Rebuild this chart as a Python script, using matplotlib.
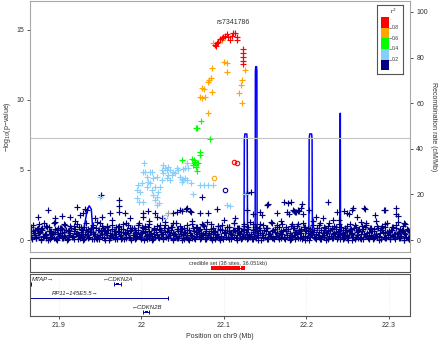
import matplotlib
matplotlib.use("Agg")
import matplotlib.pyplot as plt
from matplotlib.patches import Rectangle

plt.rcParams['font.family'] = ['Liberation Sans', 'DejaVu Sans']

# ---- association data (Mb, -log10 p) ----
# dense low band, positions in kb
band_a_kb = [21866, 21868, 21871, 21873, 21876, 21879, 21881, 21884, 21887, 21889,
             21892, 21894, 21897, 21900, 21902, 21905, 21908, 21910, 21913, 21916,
             21918, 21921, 21924, 21926, 21929, 21931, 21934, 21937, 21940, 21942,
             21945, 21947, 21950, 21953, 21955, 21958, 21961, 21963, 21966, 21969,
             21971, 21974, 21977, 21979, 21982, 21985, 21987, 21990, 21993, 21995,
             21998, 22001, 22003, 22006, 22009, 22011, 22014, 22017, 22019, 22022,
             22025, 22027, 22030, 22033, 22035, 22038, 22041, 22043, 22046, 22049,
             22051, 22054, 22057, 22059, 22062, 22065, 22067, 22070, 22073, 22075,
             22078, 22081, 22083, 22086, 22089, 22091, 22094, 22097, 22099, 22102,
             22105, 22107, 22110, 22113, 22115, 22118, 22121, 22123, 22126, 22129,
             22131, 22134, 22137, 22139, 22142, 22145, 22147, 22150, 22153, 22155,
             22158, 22161, 22163, 22166, 22169, 22171, 22174, 22177, 22179, 22182,
             22185, 22187, 22190, 22193, 22195, 22198, 22201, 22203, 22206, 22209,
             22211, 22214, 22217, 22219, 22222, 22225, 22227, 22230, 22233, 22235,
             22238, 22241, 22243, 22246, 22249, 22251, 22254, 22257, 22259, 22262,
             22265, 22267, 22270, 22273, 22275, 22278, 22281, 22283, 22286, 22289,
             22291, 22294, 22297, 22299, 22302, 22305, 22307, 22310, 22313, 22315,
             22318, 22321, 22323, 22325]
band_a_y = [0.21, 0.05, 0.38, 0.12, 0.47, 0.09, 0.27, 0.33, 0.03, 0.18,
            0.42, 0.15, 0.06, 0.29, 0.51, 0.11, 0.24, 0.02, 0.36, 0.19,
            0.08, 0.44, 0.26, 0.13, 0.31, 0.04, 0.39, 0.22, 0.10, 0.55,
            0.17, 0.07, 0.34, 0.25, 0.14, 0.48, 0.02, 0.28, 0.20, 0.41,
            0.09, 0.32, 0.16, 0.05, 0.45, 0.23, 0.12, 0.37, 0.06, 0.30,
            0.19, 0.52, 0.03, 0.27, 0.14, 0.40, 0.08, 0.21, 0.35, 0.11,
            0.46, 0.04, 0.25, 0.17, 0.33, 0.07, 0.43, 0.13, 0.29, 0.02,
            0.38, 0.22, 0.10, 0.49, 0.16, 0.05, 0.31, 0.26, 0.12, 0.41,
            0.08, 0.35, 0.19, 0.03, 0.44, 0.23, 0.14, 0.28, 0.06, 0.53,
            0.18, 0.09, 0.36, 0.24, 0.11, 0.47, 0.04, 0.32, 0.20, 0.15,
            0.39, 0.07, 0.27, 0.13, 0.50, 0.02, 0.34, 0.21, 0.10, 0.42,
            0.17, 0.06, 0.30, 0.25, 0.12, 0.45, 0.08, 0.37, 0.19, 0.04,
            0.33, 0.22, 0.14, 0.48, 0.09, 0.28, 0.16, 0.03, 0.40, 0.24,
            0.11, 0.35, 0.06, 0.29, 0.18, 0.51, 0.05, 0.26, 0.13, 0.43,
            0.20, 0.08, 0.38, 0.15, 0.31, 0.02, 0.46, 0.23, 0.10, 0.34,
            0.17, 0.07, 0.41, 0.27, 0.12, 0.36, 0.04, 0.30, 0.21, 0.49,
            0.09, 0.25, 0.14, 0.39, 0.06, 0.32, 0.19, 0.44, 0.11, 0.28,
            0.03, 0.22, 0.15, 0.07]

band_b_kb = [21867, 21870, 21874, 21877, 21880, 21883, 21886, 21891, 21893, 21896,
             21899, 21903, 21906, 21909, 21912, 21915, 21919, 21922, 21925, 21928,
             21932, 21935, 21938, 21941, 21944, 21948, 21951, 21954, 21957, 21960,
             21964, 21967, 21970, 21973, 21976, 21980, 21983, 21986, 21989, 21992,
             21996, 21999, 22002, 22005, 22008, 22012, 22015, 22018, 22021, 22024,
             22028, 22031, 22034, 22037, 22040, 22044, 22047, 22050, 22053, 22056,
             22060, 22063, 22066, 22069, 22072, 22076, 22079, 22082, 22085, 22088,
             22092, 22095, 22098, 22101, 22104, 22108, 22111, 22114, 22117, 22120,
             22124, 22127, 22130, 22133, 22136, 22140, 22143, 22146, 22149, 22152,
             22156, 22159, 22162, 22165, 22168, 22172, 22175, 22178, 22181, 22184,
             22188, 22191, 22194, 22197, 22200, 22204, 22207, 22210, 22213, 22216,
             22220, 22223, 22226, 22229, 22232, 22236, 22239, 22242, 22245, 22248,
             22252, 22255, 22258, 22261, 22264, 22268, 22271, 22274, 22277, 22280,
             22284, 22287, 22290, 22293, 22296, 22300, 22303, 22306, 22309, 22312,
             22316, 22319, 22322, 22324]
band_b_y = [0.62, 0.48, 0.81, 0.55, 0.70, 0.41, 0.93, 0.66, 0.52, 0.77,
            0.44, 0.88, 0.59, 0.73, 0.37, 0.84, 0.63, 0.50, 0.96, 0.68,
            0.46, 0.79, 0.57, 0.90, 0.42, 0.71, 0.61, 0.85, 0.53, 0.75,
            0.39, 0.67, 0.92, 0.58, 0.80, 0.47, 0.74, 0.64, 0.87, 0.51,
            0.72, 0.43, 0.83, 0.60, 0.95, 0.49, 0.69, 0.56, 0.78, 0.40,
            0.86, 0.65, 0.54, 0.91, 0.45, 0.76, 0.62, 0.82, 0.50, 0.70,
            0.38, 0.89, 0.58, 0.74, 0.47, 0.97, 0.66, 0.53, 0.81, 0.60,
            0.43, 0.77, 0.68, 0.55, 0.90, 0.48, 0.72, 0.63, 0.85, 0.41,
            0.79, 0.57, 0.94, 0.46, 0.69, 0.61, 0.83, 0.52, 0.75, 0.88,
            0.44, 0.67, 0.58, 0.92, 0.49, 0.73, 0.64, 0.80, 0.39, 0.86,
            0.55, 0.71, 0.47, 0.95, 0.62, 0.78, 0.42, 0.68, 0.84, 0.57,
            0.51, 0.89, 0.63, 0.74, 0.45, 0.82, 0.59, 0.93, 0.48, 0.70,
            0.66, 0.40, 0.87, 0.56, 0.76, 0.61, 0.91, 0.50, 0.79, 0.64,
            0.46, 0.83, 0.69, 0.54, 0.96, 0.60, 0.73, 0.43, 0.88, 0.58,
            0.75, 0.52, 0.81, 0.65]

band_c_kb = [21869, 21875, 21882, 21888, 21895, 21901, 21907, 21914, 21920, 21927,
             21933, 21939, 21946, 21952, 21959, 21965, 21972, 21978, 21984, 21991,
             21997, 22004, 22010, 22016, 22023, 22029, 22036, 22042, 22048, 22055,
             22061, 22068, 22074, 22080, 22087, 22093, 22100, 22106, 22112, 22119,
             22125, 22132, 22138, 22144, 22151, 22157, 22164, 22170, 22176, 22183,
             22189, 22196, 22202, 22208, 22215, 22221, 22228, 22234, 22240, 22247,
             22253, 22260, 22266, 22272, 22279, 22285, 22292, 22298, 22304, 22311,
             22317, 22320]
band_c_y = [1.05, 0.88, 1.22, 0.95, 1.31, 0.84, 1.12, 1.01, 1.38, 0.92,
            1.18, 0.86, 1.27, 1.03, 0.97, 1.42, 0.90, 1.15, 1.08, 0.83,
            1.24, 0.99, 1.35, 0.87, 1.10, 1.29, 0.94, 1.19, 0.82, 1.06,
            1.33, 0.91, 1.14, 1.25, 0.85, 1.02, 1.40, 0.96, 1.20, 0.89,
            1.11, 1.30, 0.93, 1.16, 0.86, 1.26, 1.04, 1.37, 0.90, 1.13,
            0.98, 1.23, 0.84, 1.34, 1.07, 0.92, 1.21, 1.00, 1.44, 0.88,
            1.17, 0.95, 1.28, 1.09, 0.83, 1.36, 1.02, 1.19, 0.91, 1.25,
            0.97, 1.12]

band_d_kb = [21865, 21872, 21878, 21885, 21890, 21898, 21904, 21911, 21917, 21923,
             21930, 21936, 21943, 21949, 21956, 21962, 21968, 21975, 21981, 21988,
             21994, 22000, 22007, 22013, 22020, 22026, 22032, 22039, 22045, 22052,
             22058, 22064, 22071, 22077, 22084, 22090, 22096, 22103, 22109, 22116,
             22122, 22128, 22135, 22141, 22148, 22154, 22160, 22167, 22173, 22180,
             22186, 22192, 22199, 22205, 22212, 22218, 22224, 22231, 22237, 22244,
             22250, 22256, 22263, 22269, 22276, 22282, 22288, 22295, 22301, 22308,
             22314, 22319, 22325]
band_d_y = [0.04, 0.11, 0.01, 0.16, 0.07, 0.02, 0.13, 0.05, 0.19, 0.09,
            0.03, 0.14, 0.06, 0.10, 0.01, 0.17, 0.08, 0.04, 0.12, 0.02,
            0.15, 0.06, 0.09, 0.03, 0.18, 0.05, 0.11, 0.01, 0.14, 0.07,
            0.02, 0.16, 0.08, 0.04, 0.12, 0.06, 0.01, 0.19, 0.10, 0.03,
            0.13, 0.05, 0.09, 0.02, 0.17, 0.07, 0.11, 0.04, 0.15, 0.01,
            0.08, 0.12, 0.03, 0.18, 0.06, 0.10, 0.02, 0.14, 0.05, 0.09,
            0.16, 0.01, 0.11, 0.07, 0.04, 0.13, 0.02, 0.17, 0.08, 0.05,
            0.12, 0.03, 0.10]

band_e_kb = [21865, 21869, 21872, 21875, 21878, 21882, 21885, 21888, 21891, 21895,
             21898, 21901, 21904, 21907, 21911, 21914, 21917, 21920, 21923, 21927,
             21930, 21933, 21936, 21939, 21943, 21946, 21949, 21952, 21956, 21959,
             21962, 21965, 21968, 21972, 21975, 21978, 21981, 21984, 21988, 21991,
             21994, 21997, 22000, 22004, 22007, 22010, 22013, 22016, 22020, 22023,
             22026, 22029, 22032, 22036, 22039, 22042, 22045, 22048, 22052, 22055,
             22058, 22061, 22064, 22068, 22071, 22074, 22077, 22080, 22084, 22087,
             22090, 22093, 22096, 22100, 22103, 22106, 22109, 22112, 22116, 22119,
             22122, 22125, 22128, 22132, 22135, 22138, 22141, 22144, 22148, 22151,
             22154, 22157, 22160, 22164, 22167, 22170, 22173, 22176, 22180, 22183,
             22186, 22189, 22192, 22196, 22199, 22202, 22205, 22208, 22212, 22215,
             22218, 22221, 22224, 22228, 22231, 22234, 22237, 22240, 22244, 22247,
             22250, 22253, 22256, 22260, 22263, 22266, 22269, 22272, 22276, 22279,
             22282, 22285, 22288, 22292, 22295, 22298, 22301, 22304, 22308, 22311,
             22314, 22317, 22320, 22324]
band_e_y = [0.35, 0.62, 0.24, 0.51, 0.78, 0.29, 0.44, 0.67, 0.21, 0.56,
            0.73, 0.38, 0.47, 0.26, 0.64, 0.53, 0.31, 0.79, 0.42, 0.58,
            0.23, 0.69, 0.36, 0.55, 0.45, 0.27, 0.74, 0.40, 0.61, 0.33,
            0.50, 0.76, 0.25, 0.63, 0.37, 0.57, 0.22, 0.48, 0.71, 0.34,
            0.60, 0.28, 0.52, 0.77, 0.39, 0.66, 0.30, 0.46, 0.24, 0.70,
            0.41, 0.59, 0.32, 0.75, 0.49, 0.26, 0.65, 0.43, 0.54, 0.37,
            0.72, 0.28, 0.61, 0.45, 0.80, 0.35, 0.53, 0.22, 0.67, 0.40,
            0.57, 0.31, 0.74, 0.48, 0.25, 0.63, 0.42, 0.70, 0.36, 0.55,
            0.29, 0.68, 0.46, 0.23, 0.59, 0.77, 0.38, 0.52, 0.33, 0.64,
            0.44, 0.27, 0.71, 0.50, 0.36, 0.62, 0.24, 0.79, 0.47, 0.30,
            0.58, 0.41, 0.66, 0.28, 0.73, 0.53, 0.35, 0.60, 0.45, 0.21,
            0.69, 0.39, 0.55, 0.32, 0.76, 0.49, 0.26, 0.64, 0.42, 0.57,
            0.34, 0.72, 0.51, 0.23, 0.61, 0.44, 0.78, 0.37, 0.54, 0.29,
            0.65, 0.43, 0.27, 0.70, 0.48, 0.58, 0.33, 0.75, 0.40, 0.52,
            0.31, 0.63, 0.46, 0.25]

band_f_kb = [21866, 21871, 21876, 21880, 21885, 21890, 21894, 21899, 21904, 21908,
             21913, 21918, 21922, 21927, 21931, 21936, 21941, 21945, 21950, 21955,
             21959, 21964, 21968, 21973, 21978, 21982, 21987, 21992, 21996, 22001,
             22005, 22010, 22015, 22019, 22024, 22029, 22033, 22038, 22043, 22047,
             22052, 22056, 22061, 22066, 22070, 22075, 22079, 22084, 22089, 22093,
             22098, 22102, 22107, 22112, 22116, 22121, 22125, 22130, 22135, 22139,
             22144, 22148, 22153, 22158, 22162, 22167, 22171, 22176, 22181, 22185,
             22190, 22194, 22199, 22204, 22208, 22213, 22217, 22222, 22227, 22231,
             22236, 22240, 22245, 22250, 22254, 22259, 22263, 22268, 22273, 22277,
             22282, 22286, 22291, 22296, 22300, 22305, 22309, 22314, 22319, 22323]
band_f_y = [0.95, 0.72, 1.12, 0.83, 1.03, 0.66, 1.20, 0.88, 0.76, 1.08,
            0.69, 0.99, 1.16, 0.80, 0.93, 0.63, 1.06, 0.85, 1.22, 0.74,
            0.90, 1.10, 0.67, 1.01, 0.79, 1.18, 0.87, 0.71, 1.04, 0.94,
            0.64, 1.14, 0.82, 0.97, 0.70, 1.07, 0.89, 1.21, 0.77, 1.00,
            0.86, 0.68, 1.13, 0.92, 0.75, 1.05, 0.81, 1.17, 0.65, 0.98,
            1.09, 0.73, 0.91, 1.19, 0.84, 0.62, 1.02, 0.78, 1.11, 0.96,
            0.70, 1.06, 0.88, 1.23, 0.76, 0.93, 1.15, 0.67, 1.00, 0.85,
            1.12, 0.79, 0.95, 0.64, 1.08, 0.87, 1.20, 0.72, 0.99, 0.83,
            0.91, 1.16, 0.68, 1.03, 0.80, 1.10, 0.74, 0.97, 1.24, 0.86,
            0.77, 1.01, 0.89, 1.13, 0.66, 0.94, 1.07, 0.82, 1.18, 0.73]

# navy points standing above the band
navy_pos = [21.8753, 21.8874, 21.8955, 21.9036, 21.9137, 21.9218, 21.9258, 21.9298, 21.9319, 21.9347,
            21.9440, 21.9513, 21.9521, 21.9622, 21.9735, 21.9735, 21.9735, 21.9804, 21.9865, 22.0026,
            22.0026, 22.0086, 22.0167, 22.0187, 22.0248, 22.0390, 22.0430, 22.0471, 22.0491, 22.0539,
            22.0552, 22.0592, 22.0600, 22.0713, 22.0741, 22.0815, 22.0915, 22.1137, 22.1278, 22.1279,
            22.1327, 22.1359, 22.1440, 22.1461, 22.1521, 22.1540, 22.1642, 22.1735, 22.1763, 22.1775,
            22.1796, 22.1816, 22.1836, 22.1856, 22.1864, 22.1876, 22.1897, 22.1905, 22.1917, 22.1937,
            22.1945, 22.1965, 22.2038, 22.2119, 22.2200, 22.2261, 22.2321, 22.2370, 22.2463, 22.2491,
            22.2523, 22.2552, 22.2564, 22.2612, 22.2705, 22.2713, 22.2834, 22.2947, 22.2955, 22.3089,
            22.3089, 22.3117]
navy_y = [1.67, 2.14, 1.55, 1.71, 1.62, 2.38, 1.79, 1.90, 2.19, 2.14,
          1.55, 3.21, 1.62, 1.90, 2.86, 2.43, 1.98, 1.90, 1.55, 1.67,
          1.90, 2.07, 1.90, 1.62, 1.55, 1.90, 1.98, 2.14, 2.10, 2.20,
          2.26, 2.07, 2.02, 1.90, 3.05, 1.90, 2.20, 1.55, 3.38, 2.14,
          3.45, 1.83, 2.02, 1.79, 2.50, 2.57, 1.90, 2.74, 2.02, 2.62,
          1.83, 2.74, 2.14, 2.07, 2.02, 2.02, 2.17, 2.10, 2.07, 2.26,
          2.57, 1.83, 2.14, 1.67, 1.55, 2.74, 1.45, 1.98, 2.07, 1.90,
          1.83, 2.14, 2.26, 1.67, 2.26, 2.21, 1.79, 2.17, 2.14, 2.26,
          1.88, 1.71]

lblue_pos = [21.9500, 21.9945, 21.9953, 21.9965, 21.9978, 21.9986, 22.0006, 22.0026, 22.0026, 22.0034,
             22.0046, 22.0066, 22.0066, 22.0086, 22.0107, 22.0107, 22.0127, 22.0127, 22.0147, 22.0147,
             22.0167, 22.0167, 22.0187, 22.0187, 22.0187, 22.0208, 22.0216, 22.0228, 22.0248, 22.0248,
             22.0268, 22.0268, 22.0288, 22.0309, 22.0309, 22.0329, 22.0329, 22.0349, 22.0349, 22.0369,
             22.0390, 22.0410, 22.0430, 22.0450, 22.0471, 22.0491, 22.0491, 22.0511, 22.0511, 22.0531,
             22.0531, 22.0552, 22.0552, 22.0572, 22.0600, 22.0632, 22.0713, 22.0762, 22.0815, 22.0875,
             22.1036, 22.1076, 22.1258]
lblue_y = [3.05, 3.57, 2.98, 3.93, 2.74, 3.45, 4.05, 4.88, 2.74, 5.48,
           4.88, 3.81, 4.52, 4.17, 4.05, 4.88, 4.88, 3.57, 3.21, 4.40,
           2.86, 3.81, 3.10, 4.52, 2.50, 3.45, 2.62, 3.81, 4.29, 5.00,
           4.76, 5.36, 5.12, 5.00, 4.40, 4.64, 5.24, 4.29, 5.00, 4.64,
           4.88, 4.76, 5.12, 5.00, 4.52, 4.33, 4.17, 4.29, 5.05, 4.40,
           5.12, 4.29, 5.48, 5.12, 4.05, 3.29, 3.93, 3.93, 3.93, 3.93,
           2.50, 2.45, 3.29]

green_pos = [22.0725, 22.0664, 22.0680, 22.0834, 22.0713, 22.0713, 22.0490, 22.0612, 22.0652, 22.0672,
             22.0693, 22.0632, 22.0664, 22.0672, 22.0640, 22.0640]
green_y = [8.52, 7.98, 7.98, 7.19, 6.31, 6.07, 5.71, 5.76, 5.60, 5.48,
           5.52, 5.36, 5.24, 4.95, 5.52, 5.71]

orange_pos = [22.1004, 22.1036, 22.1036, 22.0855, 22.0843, 22.0815, 22.0827, 22.0734, 22.0762, 22.0714,
              22.0734, 22.0775, 22.0855, 22.0815, 22.1218, 22.1206, 22.1190, 22.1218, 22.1258, 22.0875,
              22.0980]
orange_y = [12.74, 12.62, 12.02, 12.26, 11.55, 11.31, 11.43, 10.83, 10.76, 10.24,
            10.12, 10.24, 10.55, 9.10, 11.43, 11.07, 10.48, 9.81, 12.17, 14.05,
            14.30]

red_pos = [22.0895, 22.0905, 22.0915, 22.0935, 22.0955, 22.0976, 22.0996, 22.1016, 22.1036, 22.1056,
           22.1076, 22.1097, 22.1117, 22.1137, 22.1157, 22.1165, 22.1238, 22.1238, 22.1238, 22.1238,
           22.1238]
red_y = [13.93, 13.85, 14.05, 14.17, 14.33, 14.40, 14.48, 14.57, 14.71, 14.52,
         14.29, 14.57, 14.76, 14.81, 14.52, 14.29, 13.62, 13.33, 13.05, 12.81,
         12.57]

# sites plotted as open circles
circle_pos = [22.1125, 22.1158, 22.0886, 22.1020, 22.0288]
circle_y = [5.60, 5.52, 4.40, 3.57, 1.67]
circle_col = ['#FF0000', '#FF0000', '#FFA500', '#000080', '#87CEFA']
grey_pos = [22.0329]
grey_y = [1.95]

lead_snp = 'rs7341786'
lead_pos, lead_y = 22.1117, 14.76

# ---- recombination rate (cM/Mb) ----
recomb_pos = [21.8652, 21.8800, 21.9000, 21.9200, 21.9290, 21.9320, 21.9345, 21.9370, 21.9395, 21.9410,
              21.9425, 21.9500, 21.9800, 22.0100, 22.0500, 22.0800, 22.1100, 22.1246, 22.1250, 22.1256,
              22.1280, 22.1285, 22.1289, 22.1381, 22.1384, 22.1388, 22.1398, 22.1402, 22.1405, 22.1700,
              22.2032, 22.2036, 22.2042, 22.2066, 22.2071, 22.2075, 22.2300, 22.2410, 22.2413, 22.2416,
              22.2600, 22.2900, 22.3258]
recomb_rate = [1.0, 1.2, 0.8, 1.5, 2.0, 8.0, 13.0, 15.0, 13.5, 6.0,
               1.5, 1.0, 0.6, 0.9, 0.7, 1.1, 0.8, 1.0, 44.0, 46.5,
               46.5, 44.0, 1.0, 1.0, 74.0, 76.0, 76.0, 74.0, 1.0, 0.9,
               1.0, 44.0, 46.5, 46.5, 44.0, 1.0, 0.8, 1.0, 55.6, 1.0,
               0.9, 1.1, 0.8]

# ---- credible set ----
cred_pos = [22.0872, 22.0878, 22.0885, 22.0891, 22.0895, 22.0902, 22.0908, 22.0915, 22.0921, 22.0928,
            22.0935, 22.0941, 22.0948, 22.0955, 22.0962, 22.0968, 22.0976, 22.0983, 22.0990, 22.0996,
            22.1004, 22.1010, 22.1016, 22.1024, 22.1030, 22.1036, 22.1045, 22.1056, 22.1066, 22.1076,
            22.1087, 22.1097, 22.1107, 22.1117, 22.1137, 22.1157, 22.1175, 22.1238]
cred_text = 'credible set (38 sites, 36.051kb)'

# ---- genes ----
gene_names = ['MTAP\u2192', '\u2190CDKN2A', 'RP11\u2212145E5.5\u2192', '\u2190CDKN2B']
gene_label_x = [21.8670, 21.9533, 21.8915, 21.9885]
gene_label_row = [5, 5, 19, 33]
gene_start = [21.8600, 21.9674, 21.8600, 22.0026]
gene_end = [21.8662, 21.9752, 22.0329, 22.0098]
gene_row = [10, 10, 24, 37.7]

tick_pos = [21.9, 22.0, 22.1, 22.2, 22.3]
tick_labels = ['21.9', '22', '22.1', '22.2', '22.3']

r2_colors = ['#FF0000', '#FFA500', '#00FF00', '#87CEFA', '#000080']
r2_breaks = ['0.8', '0.6', '0.4', '0.2']

XLIM = (21.8652, 22.3258)
TXT = '#333333'
FS = 5

bands = [(band_d_kb, band_d_y), (band_a_kb, band_a_y), (band_e_kb, band_e_y),
         (band_b_kb, band_b_y), (band_f_kb, band_f_y), (band_c_kb, band_c_y)]
for kb, yy in bands:
    assert len(kb) == len(yy)

fig = plt.figure(figsize=(4.4, 3.45), dpi=100)
W, H = 440.0, 345.0


def px_axes(x0, y0, x1, y1):
    return fig.add_axes([x0 / W, 1 - y1 / H, (x1 - x0) / W, (y1 - y0) / H])


# main panel
ax = px_axes(30, 1, 410, 252)
ax.set_xlim(XLIM)
ax.set_ylim(-0.857, 17.07)
ax.axhline(7.3, color='#C4C4C4', lw=0.8, zorder=1)

pt = dict(ls='none', marker='+', ms=5.0, mew=0.85, zorder=2)
for kb, yy in bands:
    ax.plot([k / 1000.0 for k in kb], yy, color='#000080', **pt)
ax.plot(navy_pos, navy_y, color='#000080', **pt)
ax.plot(grey_pos, grey_y, color='#A0A0A0', **pt)
ax.plot(lblue_pos, lblue_y, color='#87CEFA', **pt)
ax.plot(green_pos, green_y, color='#00FF00', **pt)
ax.plot(orange_pos, orange_y, color='#FFA500', **pt)
ax.plot(red_pos, red_y, color='#FF0000', **pt)
for x, y, c in zip(circle_pos, circle_y, circle_col):
    ax.plot([x], [y], ls='none', marker='o', ms=3.2, mfc='none', mec=c, mew=0.8, zorder=3)
ax.text(lead_pos, lead_y + 0.55, lead_snp, ha='center', va='bottom', fontsize=FS, color=TXT)

ax.set_xticks([])
ax.set_yticks([0, 5, 10, 15])
ax.tick_params(axis='y', length=2.5, width=0.6, pad=2, labelsize=FS, colors=TXT)
ax.set_ylabel('\u2212log$_{10}$(p\u2212value)', fontsize=FS, color=TXT)
ax.yaxis.set_label_coords(-0.044, 0.5)
for s in ax.spines.values():
    s.set_color('#A8A8A8')
    s.set_linewidth(0.8)

# recombination rate on right axis, drawn underneath the points
ax2 = ax.twinx()
ax2.set_ylim(-5.26, 104.8)
ax2.plot(recomb_pos, recomb_rate, color='#0000FF', lw=1.1)
ax2.set_yticks([0, 20, 40, 60, 80, 100])
ax2.tick_params(axis='y', length=2.5, width=0.6, pad=2, labelsize=FS, colors=TXT)
ax2.set_ylabel('Recombination rate (cM/Mb)', fontsize=FS, color=TXT, rotation=270)
ax2.yaxis.set_label_coords(1.07, 0.5)
for s in ax2.spines.values():
    s.set_visible(False)
ax.set_zorder(ax2.get_zorder() + 1)
ax.patch.set_visible(False)

# r2 legend
leg = px_axes(377.3, 5, 402.7, 74)
leg.set_zorder(5)
leg.set_xlim(0, 25.4)
leg.set_ylim(69, 0)
bounds = [11.7, 22.7, 33.3, 44.0, 54.7, 65.0]
for i, c in enumerate(r2_colors):
    leg.add_patch(Rectangle((3.4, bounds[i]), 8.6, bounds[i + 1] - bounds[i], facecolor=c, edgecolor='none'))
for i, lab in enumerate(r2_breaks):
    leg.plot([12.0, 13.4], [bounds[i + 1], bounds[i + 1]], color=TXT, lw=0.4)
    leg.text(14.2, bounds[i + 1], lab, fontsize=3.6, va='center', ha='left', color=TXT)
leg.text(16.0, 6.0, 'r$^2$', fontsize=4.5, ha='center', va='center', color=TXT)
leg.set_xticks([])
leg.set_yticks([])
for s in leg.spines.values():
    s.set_color('#555555')
    s.set_linewidth(0.8)

# credible set panel
cax = px_axes(30, 258.3, 410, 272.3)
cax.set_xlim(XLIM)
cax.set_ylim(0, 1)
cax.plot([min(cred_pos), max(cred_pos)], [0.29, 0.29], color='#FF0000', lw=0.8)
cax.plot(cred_pos, [0.29] * len(cred_pos), ls='none', marker='s', ms=2.8, color='#FF0000', mew=0)
cax.text(22.105, 0.62, cred_text, ha='center', va='center', fontsize=4.0, color=TXT)
cax.set_xticks([])
cax.set_yticks([])
for s in cax.spines.values():
    s.set_color('#555555')
    s.set_linewidth(0.8)

# gene panel
gax = px_axes(30, 274.3, 410, 316)
gax.set_xlim(XLIM)
gax.set_ylim(41.7, 0)
for x in tick_pos:
    gax.axvline(x, color='#E4E4E4', lw=0.5, ls=':', zorder=0)
for name, lx, lr, st, en, gr in zip(gene_names, gene_label_x, gene_label_row, gene_start, gene_end, gene_row):
    gax.text(lx, lr, name, fontsize=4.3, style='italic', ha='left', va='center', color='#222222')
    gax.plot([st, en], [gr, gr], color='#0000A0', lw=0.7)
    gax.plot([st, en], [gr, gr], ls='none', marker='|', ms=2.5, mew=0.7, color='#0000A0')
gax.add_patch(Rectangle((21.8652, 8.8), 0.0012, 2.4, facecolor='#0000A0', edgecolor='none'))
gax.add_patch(Rectangle((21.9695, 8.9), 0.0030, 2.2, facecolor='#0000A0', edgecolor='none'))
gax.add_patch(Rectangle((22.0040, 36.6), 0.0040, 2.2, facecolor='#0000A0', edgecolor='none'))
gax.set_yticks([])
gax.set_xticks(tick_pos)
gax.set_xticklabels(tick_labels)
gax.tick_params(axis='x', length=2.5, width=0.6, pad=2, labelsize=FS, colors=TXT)
gax.set_xlabel('Position on chr9 (Mb)', fontsize=FS, color=TXT, labelpad=3)
for s in gax.spines.values():
    s.set_color('#555555')
    s.set_linewidth(0.8)

fig.savefig('out.png', dpi=100)
